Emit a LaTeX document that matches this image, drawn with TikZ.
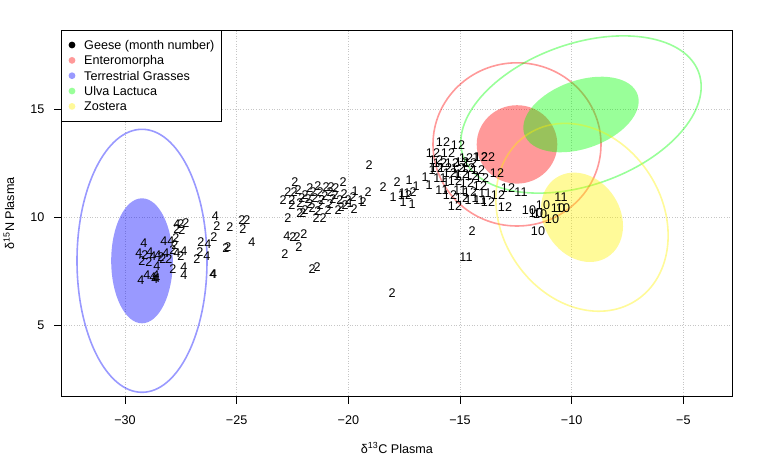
\documentclass[tikz,border=0pt]{standalone}
\usepackage{fontspec}
\setmainfont{Liberation Sans}
\begin{document}
\begin{tikzpicture}[x=1pt, y=-1pt,
    lbl/.style={font=\fontsize{12.6}{15}\selectfont, inner sep=0pt},
    gridline/.style={gray!45, dotted, line width=0.6pt},
    region/.style={fill opacity=0.4},
    contour/.style={draw opacity=0.4, line width=1.6pt}]
\useasboundingbox (0,0) rectangle (763,458);
\coordinate (nw) at (61,30.5);
\coordinate (se) at (732.7,396);
% grid
\foreach \i in {0,...,5}
    \draw[gridline] (125+\i*111.667,30.5) -- (125+\i*111.667,396);
\foreach \py in {325.3,217.3,109.3}
    \draw[gridline] (61,\py) -- (732.7,\py);
% ellipses
\fill[blue, region] (142,260.8) ellipse [x radius=30.8, y radius=62.5];
\draw[blue, contour] (142,260.8) ellipse [x radius=65, y radius=131.5];
\fill[red, region] (517,144.4) ellipse [x radius=40.3, y radius=39.2];
\draw[red, contour] (517,144.4) ellipse [x radius=84, y radius=81.6];
\fill[green, region, rotate around={19.5:(581,114.5)}] (581,114.5) ellipse [x radius=60, y radius=34];
\draw[green, contour, rotate around={19.5:(581,114.5)}] (581,114.5) ellipse [x radius=125, y radius=70.7];
\fill[yellow, region, rotate around={123:(582,217.3)}] (582,217.3) ellipse [x radius=47.2, y radius=38.1];
\draw[yellow, contour, rotate around={123:(582,217.3)}] (582,217.3) ellipse [x radius=99.2, y radius=80];
% geese
\foreach \px/\py/\m [count=\i] in {
    215.5/216/4, 217/226/2, 214/237/2, 230/227/2, 243/229/2, 242/220/2, 247/220/2,
    252/242/4, 226/248/2, 228/247/2, 201/242/2, 208/244/4, 200/252/2, 207/256/4,
    197/259/2, 213/274/4, 213.6/274.4/4, 177/224/4, 181/224/2, 186/223/2, 177/229/2,
    182/230/2, 176/238/2, 164/241/4, 171/241/4, 175/245/2, 173/250/2, 184/251/4,
    177/253/4, 181/256/2, 144/243/4, 139/253/4, 145/255/2, 150/252/4, 153/256/4,
    142/261/2, 149/262/2, 158/255/4, 163/259/2, 166/253/4, 169/259/2, 161/257/2,
    157/266/4, 156/275/4, 157/278/4, 173/269/2, 184/267/4, 184/275/4, 141/280/4,
    147/275/4, 153/277/4, 155/279/4,
    369/165/2, 295/182/2, 288/192/2, 294/192/2, 283/200/2, 292/200/2, 292/205/2,
    343/182/2, 326/187/2, 331/187/2, 310/188/2, 320/192/2, 305/195/2, 315/198/2,
    325/196/2, 335/195/2, 340/200/2, 300/203/2, 310/204/2, 320/205/2, 330/204/2,
    345/205/2, 338/210/2, 305/210/2, 300/213/2, 303/213/2, 316/218/2, 323/218/2,
    298/190/2, 313/192/2, 318/186/2, 330/192/2, 336/188/2, 344/194/2, 308/199/2,
    322/200/2, 333/199/2, 348/200/2, 302/198/2, 328/210/2, 318/211/2, 312/208/2,
    341/207/2, 350/203/1,
    288/218/2, 354/209/2, 353/197/2, 355/191/1, 368/192/2, 363/202/2, 361/200/1,
    287/236/4, 293/237/2, 297/237/2, 304/234/2, 299/247/2, 285/254/2, 312/269/2,
    317/267/2, 392/293/2, 383/187/2, 397/182/2, 393/197/1,
    409/180/1, 416/186/1, 402/193/1, 407/193/1, 413/192/2, 403/202/1, 412/204/1,
    425/177/1, 429/185/1, 405/195/12,
    443/142/12, 458/145/12, 433/153/12, 448/153/12, 476/157/1, 481/157/12, 488/157/22,
    497/173/12, 508/188/12, 521/192/11, 498/195/12, 505/207/12, 488/202/12, 480/200/11,
    468/200/1, 455/206/12, 442/190/11,
    440/163/12, 452/163/12, 462/162/12, 470/163/12, 437/168/12, 445/168/12, 458/168/12,
    468/168/12, 478/170/12, 432/170/1, 450/173/12, 462/174/12, 472/176/12, 482/178/12,
    440/178/11, 446/182/1, 455/181/12, 467/183/12, 480/186/12, 460/190/11, 470/192/12,
    485/193/11, 450/195/12, 462/198/12, 475/198/1, 436/160/12, 466/158/12, 457/176/1,
    529/210/10, 536/213/10, 540/214/10, 543/205/10, 558/208/10, 563/208/10, 561/197/11,
    552/219/10, 538/231/10, 472/231/2, 466/257/11}
    \node[lbl] (g\i) at (\px,\py) {\m};
% axes
\draw[line width=0.8pt] (nw) rectangle (se);
\foreach \v [count=\i from 0] in {30,25,20,15,10,5} {
    \draw[line width=0.8pt] (125+\i*111.667,396) -- ++(0,7.5);
    \node[lbl] (xt\i) at (125+\i*111.667,420.5) {−\v};
}
\foreach \v/\py in {5/325.3,10/217.3,15/109.3} {
    \draw[line width=0.8pt] (61,\py) -- ++(-7.5,0);
    \node[lbl, anchor=east] (yt\v) at (44.5,\py) {\v};
}
\node[lbl, anchor=base] (xlab) at (396.9,453) {δ\textsuperscript{13}C Plasma};
\node[lbl, anchor=base, rotate=90] (ylab) at (14,213.2) {δ\textsuperscript{15}N Plasma};
% legend
\draw[fill=white, line width=0.8pt] (61,30.5) rectangle (221,121.7);
\foreach \c/\o/\t [count=\i from 0] in {black/1/Geese (month number), red/0.4/Enteromorpha,
    blue/0.4/Terrestrial Grasses, green/0.4/Ulva Lactuca, yellow/0.4/Zostera} {
    \fill[\c, fill opacity=\o] (72,45+\i*15.35) circle [radius=3.4];
    \node[lbl, anchor=base west] (leg\i) at (84,49.5+\i*15.35) {\t};
}
\end{tikzpicture}
\end{document}
